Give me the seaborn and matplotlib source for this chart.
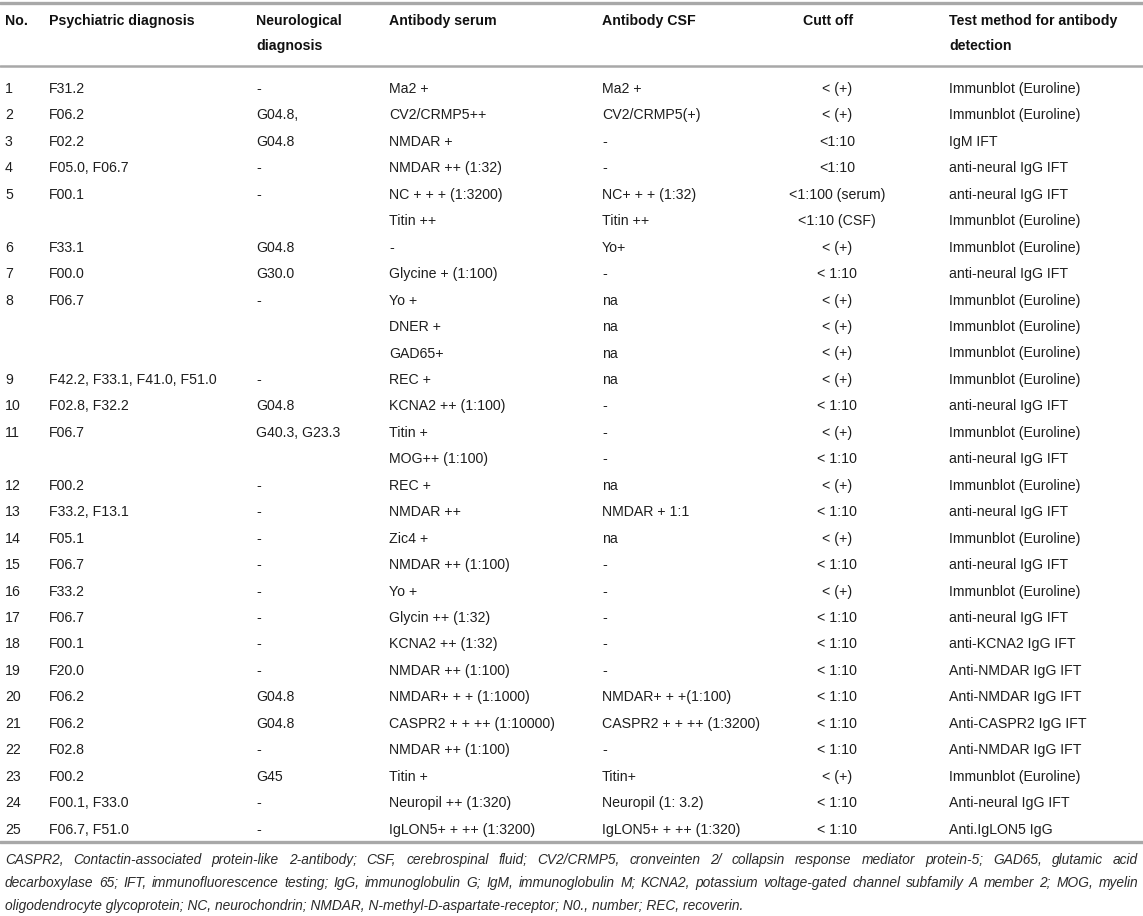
import matplotlib
matplotlib.use("Agg")
import matplotlib.pyplot as plt
import seaborn as sns

# ---------------- data ----------------
col_headers = [["No."], ["Psychiatric diagnosis"], ["Neurological", "diagnosis"],
               ["Antibody serum"], ["Antibody CSF"], ["Cutt off"],
               ["Test method for antibody", "detection"]]

case_no = ["1", "2", "3", "4", "5", "", "6", "7", "8", "", "", "9", "10", "11", "",
           "12", "13", "14", "15", "16", "17", "18", "19", "20", "21", "22", "23", "24", "25"]
psych = ["F31.2", "F06.2", "F02.2", "F05.0, F06.7", "F00.1", "", "F33.1", "F00.0", "F06.7", "", "",
         "F42.2, F33.1, F41.0, F51.0", "F02.8, F32.2", "F06.7", "", "F00.2", "F33.2, F13.1", "F05.1",
         "F06.7", "F33.2", "F06.7", "F00.1", "F20.0", "F06.2", "F06.2", "F02.8", "F00.2",
         "F00.1, F33.0", "F06.7, F51.0"]
neuro = ["-", "G04.8,", "G04.8", "-", "-", "", "G04.8", "G30.0", "-", "", "", "-", "G04.8",
         "G40.3, G23.3", "", "-", "-", "-", "-", "-", "-", "-", "-", "G04.8", "G04.8", "-", "G45", "-", "-"]
serum = ["Ma2 +", "CV2/CRMP5++", "NMDAR +", "NMDAR ++ (1:32)", "NC + + + (1:3200)", "Titin ++", "-",
         "Glycine + (1:100)", "Yo +", "DNER +", "GAD65+", "REC +", "KCNA2 ++ (1:100)", "Titin +",
         "MOG++ (1:100)", "REC +", "NMDAR ++", "Zic4 +", "NMDAR ++ (1:100)", "Yo +", "Glycin ++ (1:32)",
         "KCNA2 ++ (1:32)", "NMDAR ++ (1:100)", "NMDAR+ + + (1:1000)", "CASPR2 + + ++ (1:10000)",
         "NMDAR ++ (1:100)", "Titin +", "Neuropil ++ (1:320)", "IgLON5+ + ++ (1:3200)"]
csf = ["Ma2 +", "CV2/CRMP5(+)", "-", "-", "NC+ + + (1:32)", "Titin ++", "Yo+", "-", "na", "na", "na",
       "na", "-", "-", "-", "na", "NMDAR + 1:1", "na", "-", "-", "-", "-", "-", "NMDAR+ + +(1:100)",
       "CASPR2 + + ++ (1:3200)", "-", "Titin+", "Neuropil (1: 3.2)", "IgLON5+ + ++ (1:320)"]
cutoff = ["< (+)", "< (+)", "<1:10", "<1:10", "<1:100 (serum)", "<1:10 (CSF)", "< (+)", "< 1:10",
          "< (+)", "< (+)", "< (+)", "< (+)", "< 1:10", "< (+)", "< 1:10", "< (+)", "< 1:10", "< (+)",
          "< 1:10", "< (+)", "< 1:10", "< 1:10", "< 1:10", "< 1:10", "< 1:10", "< 1:10", "< (+)",
          "< 1:10", "< 1:10"]
method = ["Immunblot (Euroline)", "Immunblot (Euroline)", "IgM IFT", "anti-neural IgG IFT",
          "anti-neural IgG IFT", "Immunblot (Euroline)", "Immunblot (Euroline)", "anti-neural IgG IFT",
          "Immunblot (Euroline)", "Immunblot (Euroline)", "Immunblot (Euroline)", "Immunblot (Euroline)",
          "anti-neural IgG IFT", "Immunblot (Euroline)", "anti-neural IgG IFT", "Immunblot (Euroline)",
          "anti-neural IgG IFT", "Immunblot (Euroline)", "anti-neural IgG IFT", "Immunblot (Euroline)",
          "anti-neural IgG IFT", "anti-KCNA2 IgG IFT", "Anti-NMDAR IgG IFT", "Anti-NMDAR IgG IFT",
          "Anti-CASPR2 IgG IFT", "Anti-NMDAR IgG IFT", "Immunblot (Euroline)", "Anti-neural IgG IFT",
          "Anti.IgLON5 IgG"]

footnote_lines = [
    "CASPR2, Contactin-associated protein-like 2-antibody; CSF, cerebrospinal fluid; CV2/CRMP5, cronveinten 2/ collapsin response mediator protein-5; GAD65, glutamic acid",
    "decarboxylase 65; IFT, immunofluorescence testing; IgG, immunoglobulin G; IgM, immunoglobulin M; KCNA2, potassium voltage-gated channel subfamily A member 2; MOG, myelin",
    "oligodendrocyte glycoprotein; NC, neurochondrin; NMDAR, N-methyl-D-aspartate-receptor; N0., number; REC, recoverin.",
]

# ---------------- layout ----------------
W, H = 1143, 916
sns.set_theme(style="white")
plt.rcParams["font.family"] = ["Liberation Sans", "DejaVu Sans"]

fig = plt.figure(figsize=(W / 100, H / 100), dpi=100)
ax = fig.add_axes([0, 0, 1, 1])
ax.set_xlim(0, W)
ax.set_ylim(H, 0)
ax.axis("off")
sns.despine(ax=ax, left=True, bottom=True)

col_x = [5, 49, 256, 389, 602, 837, 949]
col_ha = ["left", "left", "left", "left", "left", "center", "left"]
columns = [case_no, psych, neuro, serum, csf, cutoff, method]

txt_color = "#1e1e1e"
fs = 10.2

y0, dy = 89, 26.45
y_last = y0 + (len(case_no) - 1) * dy

# rules
rule_color = "#a8a8a8"
ax.axhline(3, color=rule_color, lw=2.4)
ax.axhline(66, color=rule_color, lw=1.8)
ax.axhline(y_last + 12, color=rule_color, lw=2.4)

# header
hy0, hdy = 21, 25
for x, ha, lines in zip(col_x, col_ha, col_headers):
    for i, t in enumerate(lines):
        xx = x - 9 if ha == "center" else x
        ax.text(xx, hy0 + i * hdy, t, ha=ha, va="center", fontsize=fs,
                fontweight="bold", color="#111111")

# body rows
for x, ha, col in zip(col_x, col_ha, columns):
    for i, t in enumerate(col):
        if t:
            ax.text(x, y0 + i * dy, t, ha=ha, va="center", fontsize=fs, color=txt_color)

# footnote (justified first lines)
fig.canvas.draw()
renderer = fig.canvas.get_renderer()
left, right = 5, 1138
fy0, fdy = y_last + 30, 23

natural = 0
for line in footnote_lines[:2]:
    probe = ax.text(0, 0, line, fontsize=10, style="italic")
    natural = max(natural, probe.get_window_extent(renderer=renderer).width)
    probe.remove()
ffs = 10 * (right - left) / natural * 0.98

for li, line in enumerate(footnote_lines):
    y = fy0 + li * fdy
    if li < len(footnote_lines) - 1:
        words = line.split(" ")
        arts, widths = [], []
        for w in words:
            a = ax.text(0, y, w, ha="left", va="center", fontsize=ffs, style="italic", color="#2a2a2a")
            arts.append(a)
            widths.append(a.get_window_extent(renderer=renderer).width)
        gap = (right - left - sum(widths)) / (len(words) - 1)
        x = left
        for a, wdt in zip(arts, widths):
            a.set_x(x)
            x += wdt + gap
    else:
        ax.text(left, y, line, ha="left", va="center", fontsize=ffs, style="italic", color="#2a2a2a")

fig.savefig("out.png", dpi=100, facecolor="white")
